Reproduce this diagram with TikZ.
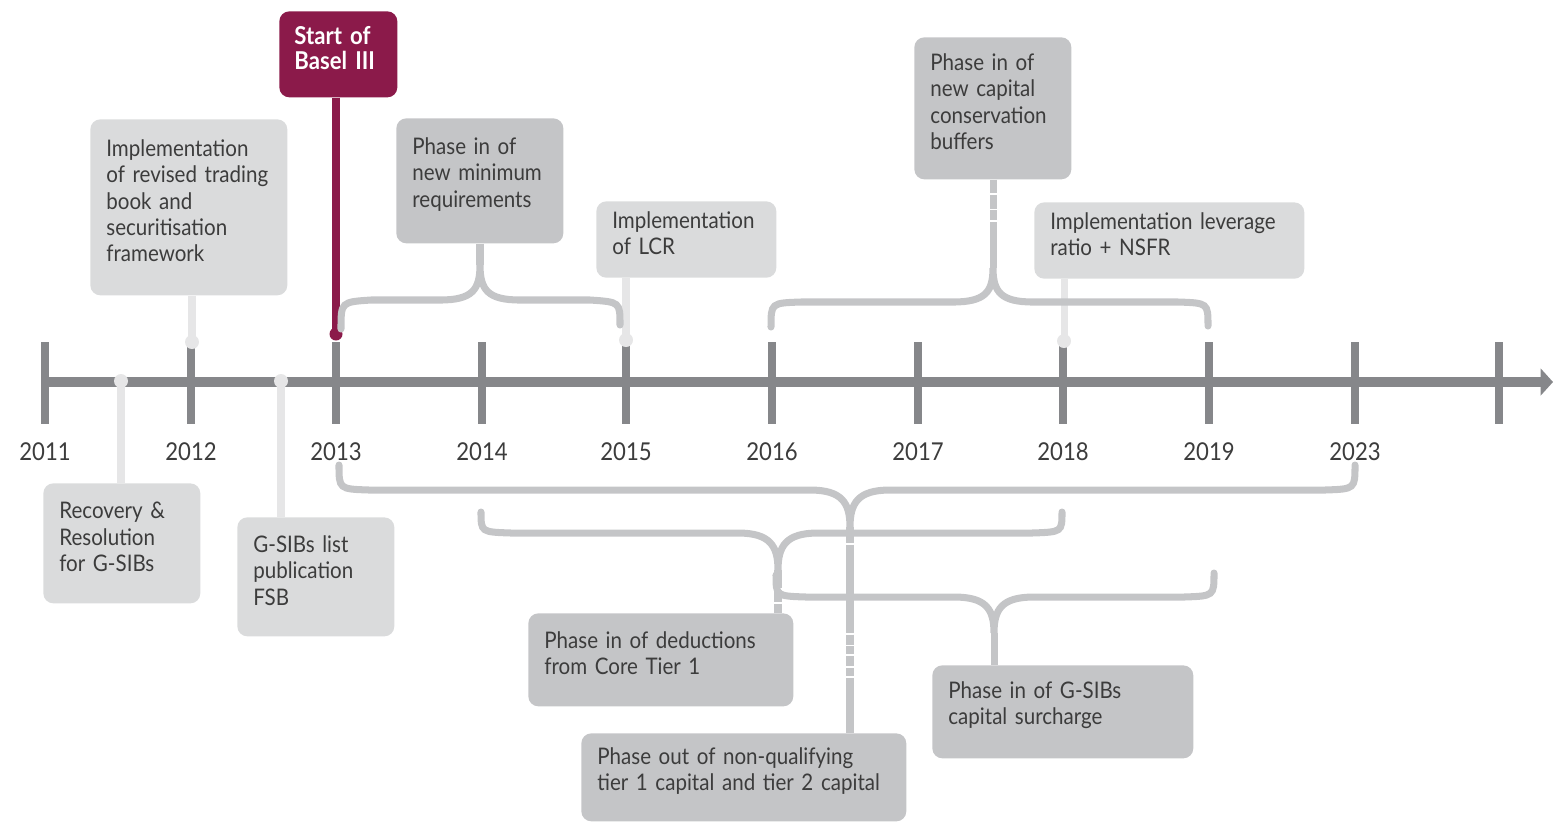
\documentclass[tikz,border=0pt]{standalone}
\usepackage{fontspec}
\setmainfont{Lato}[FakeStretch=0.9]
\usepackage{xcolor}
\usetikzlibrary{arrows.meta, positioning}
\definecolor{axisgrey}{HTML}{86878A}
\definecolor{boxlight}{HTML}{DADBDC}
\definecolor{boxmid}{HTML}{C4C5C7}
\definecolor{stemlight}{HTML}{E6E6E7}
\definecolor{baselred}{HTML}{8B1A4A}
\definecolor{txtgrey}{HTML}{3C3C3C}
\tikzset{
		lbox/.style={fill=boxlight, rounded corners=0.2cm, anchor=north west, align=left, inner xsep=0.32cm, inner ysep=0.2cm, text=txtgrey, font=\fontsize{13}{15}\selectfont, execute at end node={\par\kern0.26cm}},
		mbox/.style={lbox, fill=boxmid},
		startbox/.style={lbox, fill=baselred, text=white, inner xsep=0.3cm, font=\fontsize{14}{14.2}\selectfont\bfseries},
		year/.style={inner sep=0pt, anchor=north, text=txtgrey, font=\fontsize{14}{16}\selectfont},
		axisline/.style={draw=axisgrey, line width=6.2pt},
		tickline/.style={draw=axisgrey, line width=4.5pt},
		lstem/.style={draw=stemlight, line width=4pt},
		mstem/.style={draw=boxmid, line width=4pt},
		rstem/.style={draw=baselred, line width=4pt},
		ldot/.style={circle, fill=stemlight, inner sep=0pt, minimum size=0.28cm},
		rdot/.style={circle, fill=baselred, inner sep=0pt, minimum size=0.26cm},
		brace/.style={draw=boxmid, line width=4pt, line cap=round}
	}
\begin{document}
\begin{tikzpicture}[x=0.02cm, y=-0.02cm]
	\useasboundingbox (0,0) rectangle (1554,823);

	% time axis
	\draw[axisline, -{Triangle[length=7pt,width=15pt]}] (45,382) -- (1553,382);
	\foreach \x/\yr in {45/2011,191/2012,336/2013,482/2014,626/2015,772/2016,918/2017,1063/2018,1209/2019,1355/2023,1499/2030} {
		\coordinate (top\yr) at (\x,342);
		\coordinate (bot\yr) at (\x,424);
		\draw[tickline] (top\yr) -- (bot\yr);
	}
	\foreach \yr in {2011,2012,2013,2014,2015,2016,2017,2018,2019,2023}
		\node[year, below=0.36cm of bot\yr] (y\yr) {\yr};

	% boxes above the axis
	\node[startbox, text width=1.76cm, minimum height=1.72cm] (basel) at (279,11) {Start of\\Basel III};
	\node[lbox, text width=3.30cm, minimum height=3.52cm] (trading) at (90,119) {Implementation\\of revised trading\\book and\\securitisation\\framework};
	\node[mbox, text width=2.70cm, minimum height=2.50cm] (minreq) at (396,118) {Phase in of\\new minimum\\requirements};
	\node[lbox, text width=2.96cm, minimum height=1.46cm] (lcr) at (596,201) {Implementation\\of LCR};
	\node[mbox, text width=2.50cm, minimum height=2.84cm] (buffers) at (914,37) {Phase in of\\new capital\\conservation\\buffers};
	\node[lbox, text width=4.76cm, minimum height=1.46cm] (leverage) at (1034,202) {Implementation leverage\\ratio + NSFR};

	% boxes below the axis
	\node[lbox, text width=2.50cm, minimum height=2.40cm] (recovery) at (43,483) {Recovery \&\\Resolution\\for G-SIBs};
	\node[lbox, text width=2.50cm, minimum height=2.38cm] (gsiblist) at (237,517) {G-SIBs list\\publication\\FSB};
	\node[mbox, text width=4.66cm, minimum height=1.86cm] (deductions) at (528,613) {Phase in of deductions\\from Core Tier 1};
	\node[mbox, text width=5.86cm, minimum height=1.76cm] (phaseout) at (581,733) {Phase out of non-qualifying\\tier 1 capital and tier 2 capital};
	\node[mbox, text width=4.58cm, minimum height=1.86cm] (surcharge) at (932,665) {Phase in of G-SIBs\\capital surcharge};

	% markers on the axis
	\node[ldot] (dtrading) at (192,342) {};
	\node[ldot] (dlcr) at (626,340) {};
	\node[ldot] (dlev) at (1064,341) {};
	\node[ldot] (drecovery) at (121,381) {};
	\node[ldot] (dgsib) at (281,381) {};
	\node[rdot] (dbasel) at (336,334) {};

	% brace tips
	\coordinate (minreqtip) at (480,265);
	\coordinate (bufftip) at (993,268);
	\coordinate (phaseouttip) at (850,527);
	\coordinate (deductip) at (778,570);
	\coordinate (surchtip) at (994,633);

	% stems
	\draw[rstem] (basel.south -| dbasel) -- (dbasel.center);
	\draw[lstem] (trading.south -| dtrading) -- (dtrading.center);
	\draw[lstem] (lcr.south -| dlcr) -- (dlcr.center);
	\draw[lstem] (leverage.south -| dlev) -- (dlev.center);
	\draw[lstem] (drecovery.center) -- (recovery.north -| drecovery);
	\draw[lstem] (dgsib.center) -- (gsiblist.north -| dgsib);
	\draw[mstem] (minreq.south -| minreqtip) -- (minreqtip);
	\draw[mstem, dash pattern=on 7.4pt off 1.1pt on 7.9pt off 1.1pt on 5.7pt off 1.1pt on 40pt] (buffers.south -| bufftip) -- (bufftip);
	\draw[mstem, dash pattern=on 9.1pt off 1.1pt on 49.9pt off 1.1pt on 5.7pt off 1.1pt on 4.5pt off 1.1pt on 5.7pt off 1.1pt on 4.5pt off 1.1pt on 60pt] (phaseouttip) -- (phaseout.north -| phaseouttip);
	\draw[mstem, dash pattern=on 10.2pt off 1.1pt on 6.8pt off 1.1pt on 30pt] (deductip) -- (deductions.north -| deductip);
	\draw[mstem] (surchtip) -- (surcharge.north -| surchtip);

	% braces
	\draw[brace] (341,329) .. controls (341,302) .. (371,300) -- (440,300) .. controls (472,300) and (480,290) .. (minreqtip) .. controls (480,290) and (488,300) .. (520,300) -- (590,300) .. controls (620,302) .. (620,325);
	\draw[brace] (771,327) .. controls (771,303) .. (801,302) -- (953,302) .. controls (985,302) and (993,292) .. (bufftip) .. controls (993,292) and (1001,302) .. (1033,302) -- (1178,302) .. controls (1208,303) .. (1208,326);
	\draw[brace] (339,465) .. controls (339,489) .. (369,490) -- (810,490) .. controls (842,490) and (850,503) .. (phaseouttip) .. controls (850,503) and (858,490) .. (890,490) -- (1325,490) .. controls (1355,489) .. (1355,465);
	\draw[brace] (481,512) .. controls (481,532) .. (511,533) -- (738,533) .. controls (770,533) and (778,546) .. (deductip) .. controls (778,546) and (786,533) .. (818,533) -- (1032,533) .. controls (1062,532) .. (1062,512);
	\draw[brace] (776,575) .. controls (776,596) .. (806,597) -- (954,597) .. controls (986,597) and (994,609) .. (surchtip) .. controls (994,609) and (1002,597) .. (1034,597) -- (1184,597) .. controls (1214,596) .. (1214,573);
\end{tikzpicture}
\end{document}
